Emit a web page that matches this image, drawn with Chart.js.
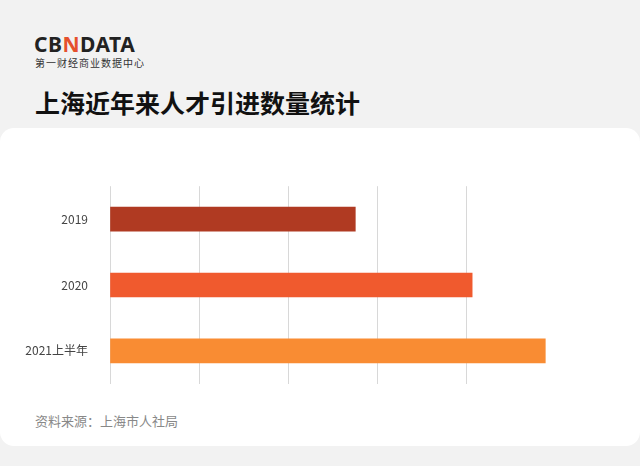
<!DOCTYPE html>
<html><head><meta charset="utf-8">
<script src="https://cdn.jsdelivr.net/npm/chart.js@4/dist/chart.umd.min.js"></script>
<style>
body{margin:0;width:640px;height:466px;background:#f2f2f2;font-family:"Noto Sans CJK SC","Noto Sans",sans-serif;position:relative;overflow:hidden}
#logo{position:absolute;left:34px;top:30px;font:bold 21px "Noto Sans",sans-serif;letter-spacing:0.5px;color:#222}
#logo span{color:#e5502d}
#sub{position:absolute;left:35px;top:55px;font-size:10px;color:#333;letter-spacing:1px}
#title{position:absolute;left:35px;top:84px;font-size:25px;font-weight:bold;color:#111}
#card{position:absolute;left:0;top:128px;width:640px;height:318px;background:#fff;border-radius:14px}
#src{position:absolute;left:35px;top:411px;font-size:13px;color:#888}
#wrap{position:absolute;left:0;top:165px;width:556px;height:240px}
</style></head><body>
<div id="logo">CB<span>N</span>DATA</div>
<div id="sub">第一财经商业数据中心</div>
<div id="title">上海近年来人才引进数量统计</div>
<div id="card"></div>
<div id="wrap"><canvas id="c"></canvas></div>
<div id="src">资料来源：上海市人社局</div>
<script>
const categories=["2019","2020","2021上半年"];
const values=[2.75,4.06,4.88];
const colors=["#b03a22","#f05a2e","#f98c33"];
new Chart(document.getElementById('c'),{
type:'bar',
data:{labels:categories,datasets:[{data:values,backgroundColor:colors,barThickness:24}]},
options:{indexAxis:'y',responsive:true,maintainAspectRatio:false,animation:false,
plugins:{legend:{display:false},tooltip:{enabled:false}},
layout:{padding:{top:4,right:0,bottom:0}},
scales:{
x:{min:0,max:5,ticks:{display:false,stepSize:1},grid:{color:'#d8d8d8',drawTicks:false},border:{display:false}},
y:{afterFit:s=>{s.width=110},ticks:{color:'#444',font:{size:12,family:'"Noto Sans CJK SC"'},padding:14},grid:{display:false},border:{display:false}}
}}});
</script>
</body></html>
